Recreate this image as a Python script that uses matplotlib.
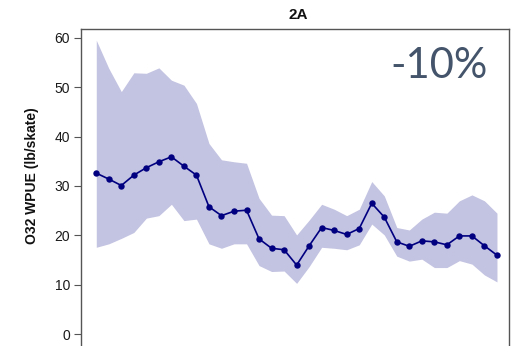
import matplotlib
matplotlib.use("Agg")
import matplotlib.pyplot as plt
import numpy as np

# WPUE series for area 2A: annual mean with upper / lower interval
mean_wpue = [32.6, 31.4, 30.1, 32.2, 33.7, 34.9, 35.9, 34.0, 32.2, 25.8,
             24.0, 24.9, 25.1, 19.3, 17.4, 17.1, 14.0, 17.9, 21.6, 21.0,
             20.2, 21.4, 26.5, 23.7, 18.7, 17.8, 18.9, 18.7, 18.1, 19.9,
             19.9, 17.9, 16.0]
upper_wpue = [59.5, 53.8, 49.1, 52.9, 52.8, 53.9, 51.4, 50.4, 46.7, 38.6,
              35.3, 34.9, 34.6, 27.5, 24.1, 24.0, 20.1, 23.1, 26.3, 25.3,
              24.0, 25.3, 30.9, 28.0, 21.6, 21.1, 23.3, 24.7, 24.5, 27.0,
              28.2, 27.0, 24.5]
lower_wpue = [17.6, 18.3, 19.4, 20.6, 23.5, 24.0, 26.3, 23.0, 23.3, 18.3,
              17.4, 18.3, 18.3, 13.9, 12.7, 12.8, 10.3, 13.7, 17.6, 17.4,
              17.1, 18.1, 22.3, 20.1, 15.8, 14.8, 15.2, 13.5, 13.5, 14.9,
              14.2, 12.0, 10.6]
y_ticks = [0, 10, 20, 30, 40, 50, 60]
panel_title = "2A"
change_label = "-10%"
y_label = "O32 WPUE (lb/skate)"

x = np.arange(len(mean_wpue))

fig = plt.figure(figsize=(5.14, 3.46), dpi=100)
ax = fig.add_axes([81 / 514, 1 - 360 / 346, 428 / 514, 331 / 346])

ax.fill_between(x, lower_wpue, upper_wpue, color="#c3c3e2", linewidth=0)
ax.plot(x, mean_wpue, color="#000080", linewidth=1.2, marker="o",
        markersize=4.6, markeredgewidth=0)

ax.set_xlim(-1.22, 32.96)
ax.set_ylim(-5.2, 61.76)
ax.set_yticks(y_ticks)
ax.set_yticklabels([str(t) for t in y_ticks], fontsize=10,
                   family="Liberation Sans", color="#1a1a1a")
ax.tick_params(axis="y", length=5, width=0.8, color="#555555", pad=3)
ax.tick_params(axis="x", bottom=False, labelbottom=False)
for side in ("left", "top", "right"):
    ax.spines[side].set_color("#555555")
    ax.spines[side].set_linewidth(1.0)
ax.spines["bottom"].set_visible(False)

fig.text(32 / 514, 1 - 176 / 346, y_label, rotation=90, ha="center",
         va="center", fontsize=10, fontweight="bold",
         family="Liberation Sans", color="#111111")
fig.text(298 / 514, 1 - 15 / 346, panel_title, ha="center", va="center",
         fontsize=11, fontweight="bold", family="Liberation Sans",
         color="#111111")
fig.text(439 / 514, 1 - 66 / 346, change_label, ha="center", va="center",
         fontsize=30, family="Lato", color="#44546a")

fig.savefig("out.png", dpi=100)
